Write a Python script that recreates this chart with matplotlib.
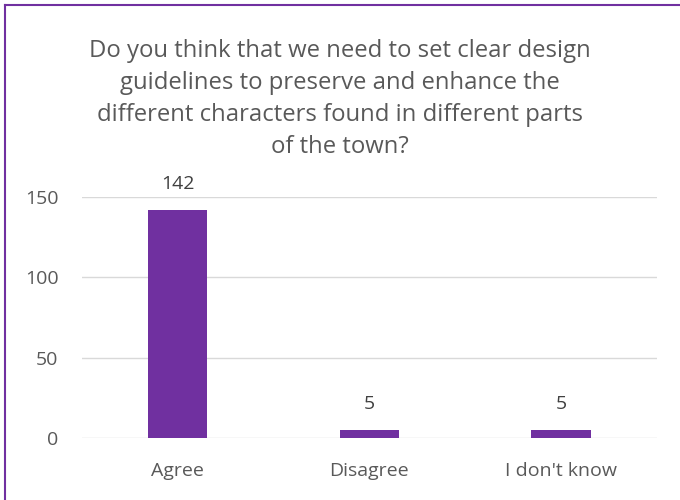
import matplotlib.pyplot as plt
from matplotlib.lines import Line2D

plt.rcParams['font.family'] = ['Open Sans', 'DejaVu Sans']

# Respuestas
categorias = ["Agree", "Disagree", "I don't know"]
respuestas = [142, 5, 5]
ticks_y = [0, 50, 100, 150]

titulo = ("Do you think that we need to set clear design\n"
          "guidelines to preserve and enhance the\n"
          "different characters found in different parts\n"
          "of the town?")

morado = '#7030A0'
gris_texto = '#595959'

fig = plt.figure(figsize=(6.8, 5), dpi=100)
ax = fig.add_axes([0.1206, 0.124, 0.845, 0.482])

x = range(len(categorias))
barras = ax.bar(x, respuestas, width=0.31, color=morado, zorder=3)
for b, v in zip(barras, respuestas):
    ax.annotate(str(v), (b.get_x() + b.get_width() / 2, v), xytext=(0, 12),
                textcoords='offset points', ha='center', va='bottom',
                fontsize=14, color='#404040')

ax.set_xlim(-0.5, 2.5)
ax.set_ylim(0, 150)
ax.set_yticks(ticks_y)
ax.set_xticks(list(x))
ax.set_xticklabels(categorias)
ax.tick_params(axis='both', length=0, labelsize=14, labelcolor=gris_texto)
ax.tick_params(axis='y', pad=17)
ax.tick_params(axis='x', pad=17)
ax.grid(axis='y', color='#D9D9D9', linewidth=1, zorder=0)
for s in ax.spines.values():
    s.set_visible(False)

fig.text(0.5, 0.922, titulo, ha='center', va='top', fontsize=17.2,
         color=gris_texto, linespacing=1.45)

# Marco morado (solo arriba e izquierda)
fig.add_artist(Line2D([5 / 680, 5 / 680], [0, 1 - 5 / 500], color=morado, lw=1.5))
fig.add_artist(Line2D([5 / 680, 1], [1 - 5 / 500, 1 - 5 / 500], color=morado, lw=1.5))

fig.savefig('out.png', dpi=100, facecolor='white')
